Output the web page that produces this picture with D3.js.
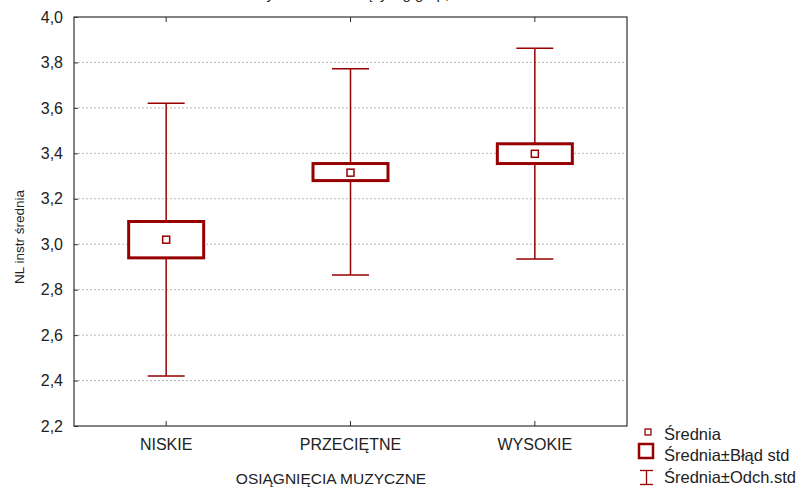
<!DOCTYPE html>
<html><head><meta charset="utf-8">
<script src="https://cdn.jsdelivr.net/npm/d3@7/dist/d3.min.js"></script>
<style>body{margin:0;background:#fff}svg{display:block}text{font-family:"Liberation Sans",Arial,sans-serif;fill:#222}</style>
</head><body><svg id="c" width="811" height="488"></svg>
<script>
const categories = ["NISKIE", "PRZECIĘTNE", "WYSOKIE"];
const means      = [3.02, 3.315, 3.398];
const seLow      = [2.94, 3.28, 3.355];
const seHigh     = [3.10, 3.355, 3.442];
const sdLow      = [2.42, 2.865, 2.935];
const sdHigh     = [3.62, 3.772, 3.862];
const yTicks     = [2.2, 2.4, 2.6, 2.8, 3.0, 3.2, 3.4, 3.6, 3.8, 4.0];
const xTitle = "OSIĄGNIĘCIA MUZYCZNE";
const yTitle = "NL instr średnia";
const legendLabels = ["Średnia", "Średnia±Błąd std", "Średnia±Odch.std"];

const red = "#960000";
const svg = d3.select("#c");
const L = 74, R = 627, T = 17, B = 426;
const x = d3.scaleBand().domain(categories).range([L, R]);
const y = d3.scaleLinear().domain([2.2, 4.0]).range([B, T]);
const fmt = v => d3.format(".1f")(v).replace(".", ",");

// title (cut off at the top edge, as in the reference)
svg.append("text").attr("x", 411).attr("y", -1).attr("text-anchor", "middle")
  .style("font-size", "15px").text("Wykres ramka-wąsy wg grup; zmienna: NL instr");

// grid
svg.append("g").selectAll("line").data(yTicks.filter(t => t > 2.2 && t < 4.0)).join("line")
  .attr("x1", L).attr("x2", R).attr("y1", d => y(d)).attr("y2", d => y(d))
  .attr("stroke", "#b8b8b8").attr("stroke-width", 1).attr("stroke-dasharray", "2,2");

// axes
const yAxis = d3.axisLeft(y).tickValues(yTicks).tickFormat(fmt).tickSizeInner(-4).tickSizeOuter(0).tickPadding(11);
const gy = svg.append("g").attr("transform", `translate(${L},0)`).call(yAxis);
gy.select(".domain").remove();
gy.selectAll("text").style("font-size", "16px").attr("fill", "#222");
gy.selectAll("line").attr("stroke", "#333");

const xAxis = d3.axisBottom(x).tickSizeInner(-5).tickSizeOuter(0).tickPadding(13);
const gx = svg.append("g").attr("transform", `translate(0,${B})`).call(xAxis);
gx.select(".domain").remove();
gx.selectAll("text").style("font-size", "16px").attr("fill", "#222");
gx.selectAll("line").attr("stroke", "#333");

const xTop = d3.axisTop(x).tickSizeInner(-5).tickSizeOuter(0).tickFormat("");
const gxt = svg.append("g").attr("transform", `translate(0,${T})`).call(xTop);
gxt.select(".domain").remove();
gxt.selectAll("line").attr("stroke", "#333");

// frame
svg.append("rect").attr("x", L).attr("y", T).attr("width", R - L).attr("height", B - T)
  .attr("fill", "none").attr("stroke", "#333").attr("stroke-width", 1.2);

// titles
svg.append("text").attr("x", 331).attr("y", 484).attr("text-anchor", "middle")
  .style("font-size", "15.5px").text(xTitle);
svg.append("text").attr("transform", "translate(24,237) rotate(-90)").attr("text-anchor", "middle")
  .style("font-size", "13.5px").text(yTitle);

// marks
const idx = d3.range(categories.length);
const cx = i => x(categories[i]) + x.bandwidth() / 2;
const boxW = 75, capW = 37;
const g = svg.append("g");
idx.forEach(i => {
  const c = cx(i);
  g.append("line").attr("x1", c).attr("x2", c).attr("y1", y(sdHigh[i])).attr("y2", y(seHigh[i]))
    .attr("stroke", red).attr("stroke-width", 1.5);
  g.append("line").attr("x1", c).attr("x2", c).attr("y1", y(seLow[i])).attr("y2", y(sdLow[i]))
    .attr("stroke", red).attr("stroke-width", 1.5);
  [sdHigh[i], sdLow[i]].forEach(v => g.append("line")
    .attr("x1", c - capW / 2).attr("x2", c + capW / 2).attr("y1", y(v)).attr("y2", y(v))
    .attr("stroke", red).attr("stroke-width", 1.5));
  g.append("rect").attr("x", c - boxW / 2).attr("y", y(seHigh[i]))
    .attr("width", boxW).attr("height", y(seLow[i]) - y(seHigh[i]))
    .attr("fill", "#fff").attr("stroke", red).attr("stroke-width", 3);
  g.append("rect").attr("x", c - 3.5).attr("y", y(means[i]) - 3.5).attr("width", 7).attr("height", 7)
    .attr("fill", "#fff").attr("stroke", red).attr("stroke-width", 1.5);
});

// legend
const lg = svg.append("g");
lg.append("rect").attr("x", 645).attr("y", 429).attr("width", 6).attr("height", 6)
  .attr("fill", "#fff").attr("stroke", red).attr("stroke-width", 1.3);
lg.append("rect").attr("x", 639).attr("y", 444).attr("width", 14).attr("height", 14)
  .attr("fill", "#fff").attr("stroke", red).attr("stroke-width", 2.5);
lg.append("line").attr("x1", 646.5).attr("x2", 646.5).attr("y1", 470).attr("y2", 485).attr("stroke", red).attr("stroke-width", 1.3);
lg.append("line").attr("x1", 640).attr("x2", 653).attr("y1", 470.5).attr("y2", 470.5).attr("stroke", red).attr("stroke-width", 1.3);
lg.append("line").attr("x1", 640).attr("x2", 653).attr("y1", 484.5).attr("y2", 484.5).attr("stroke", red).attr("stroke-width", 1.3);
lg.selectAll("text").data(legendLabels).join("text")
  .attr("x", 664).attr("y", (d, i) => [440, 461, 483][i])
  .style("font-size", "16.5px").text(d => d);
</script></body></html>
